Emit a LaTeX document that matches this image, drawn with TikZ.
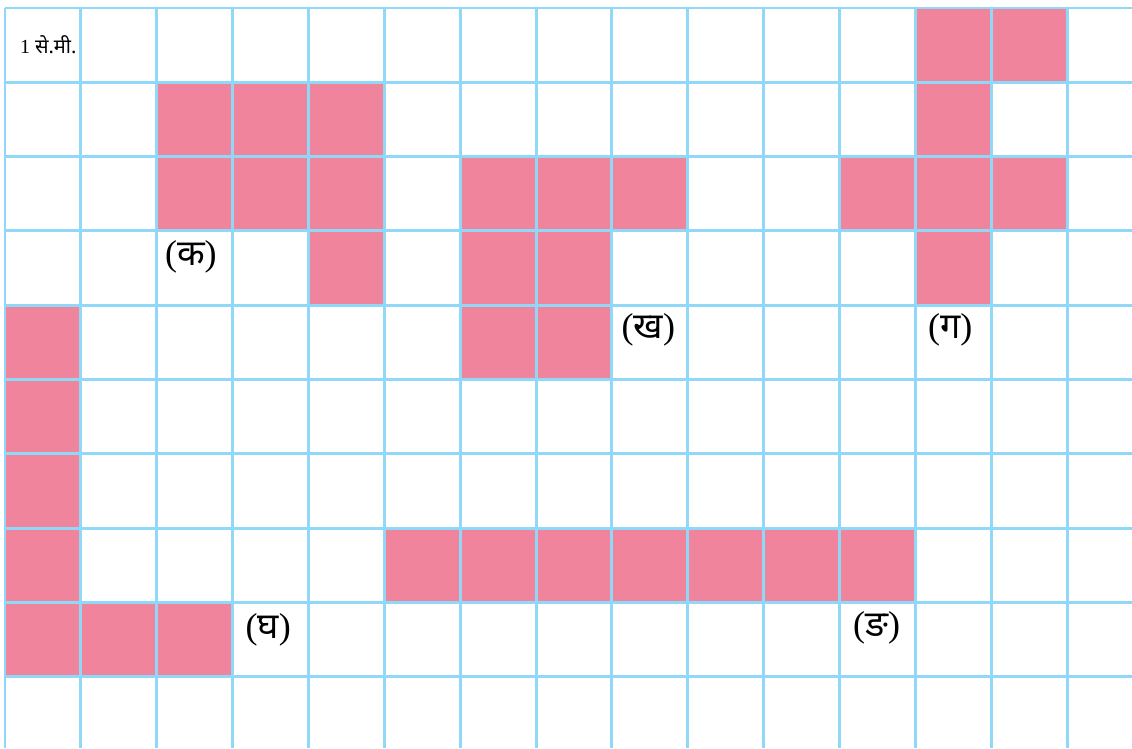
\documentclass[tikz,border=0pt]{standalone}
\usepackage{fontspec}
\setmainfont{Liberation Serif}
\newfontfamily\deva[Script=Devanagari]{Noto Sans}
\definecolor{gridclr}{HTML}{8FD8F8}
\definecolor{shadeclr}{HTML}{F0849C}

\begin{document}
\begin{tikzpicture}[x=2cm, y=-1.959cm,
    cell/.style={fill=shadeclr, draw=none},
    gline/.style={draw=gridclr, line width=2.2pt},
    lbl/.style={font=\fontsize{27}{31}\selectfont, inner sep=0pt},
  ]
  \useasboundingbox (-0.066,-0.108) rectangle (14.856,9.96);

  % shaded squares
  \foreach \c/\r in {12/0,13/0,
                     2/1,3/1,4/1,12/1,
                     2/2,3/2,4/2,6/2,7/2,8/2,11/2,12/2,13/2,
                     4/3,6/3,7/3,12/3,
                     0/4,6/4,7/4,
                     0/5,0/6,
                     0/7,5/7,6/7,7/7,8/7,9/7,10/7,11/7,
                     0/8,1/8,2/8}
    \path[cell] (\c,\r) rectangle ++(1,1);

  % grid
  \foreach \i in {0,...,14}
    \draw[gline] (\i,0) -- (\i,9.96);
  \foreach \j in {0,...,9}
    \draw[gline] (0,\j) -- (14.856,\j);

  \node[font=\fontsize{15}{18}\selectfont, inner sep=0pt] (unit) at (0.57,0.5) {1 {\deva से.मी.}};
  \node[lbl] (ka)  at (2.45,3.35)  {({\deva क})};
  \node[lbl] (kha) at (8.48,4.33)  {({\deva ख})};
  \node[lbl] (ga)  at (12.46,4.33) {({\deva ग})};
  \node[lbl] (gha) at (3.47,8.37)  {({\deva घ})};
  \node[lbl] (nga) at (11.49,8.34) {({\deva ङ})};
\end{tikzpicture}
\end{document}
